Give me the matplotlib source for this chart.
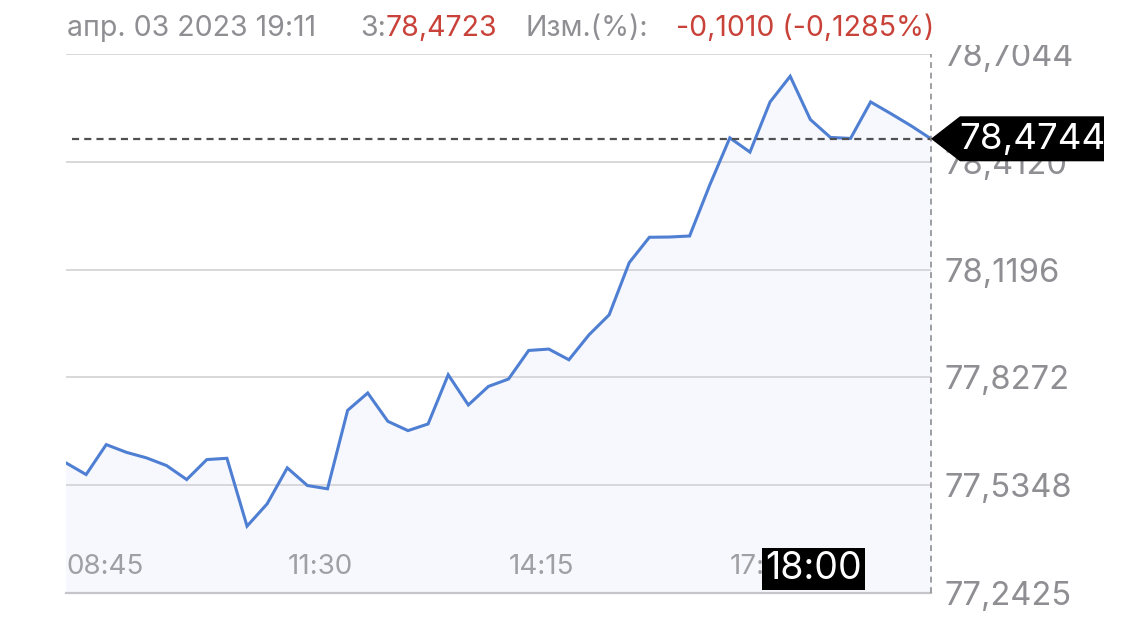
import matplotlib
matplotlib.use("Agg")
import matplotlib.pyplot as plt
import matplotlib.transforms as mtransforms
from matplotlib.patches import Polygon, Rectangle
import numpy as np

plt.rcParams['font.family'] = ['Inter', 'DejaVu Sans']

# 15-minute steps starting at 08:45
prices = [77.5954, 77.5638, 77.6450, 77.6241, 77.6090, 77.5881, 77.5502, 77.6044,
          77.6079, 77.4238, 77.4844, 77.5819, 77.5340, 77.5251, 77.7379, 77.7850,
          77.7081, 77.6829, 77.7010, 77.8345, 77.7525, 77.8028, 77.8229, 77.9003,
          77.9041, 77.8751, 77.9428, 77.9970, 78.1386, 78.2073, 78.2080, 78.2108,
          78.3489, 78.4770, 78.4383, 78.5744, 78.6440, 78.5268, 78.4781, 78.4754,
          78.5744, 78.5428, 78.5100, 78.4744]
y_ticks = [77.2425, 77.5348, 77.8272, 78.1196, 78.4120, 78.7044]
y_labels = ["77,2425", "77,5348", "77,8272", "78,1196", "78,4120", "78,7044"]
x_tick_pos = [0, 11, 22, 33]
x_tick_labels = ["08:45", "11:30", "14:15", "17:00"]
cursor_idx = 37
cursor_label = "18:00"
last_label = "78,4744"
header_date = "апр. 03 2023 19:11"
header_close_lbl = "З:"
header_close = "78,4723"
header_chg_lbl = "Изм.(%):"
header_chg = "-0,1010 (-0,1285%)"

GRAY = "#8e8e93"
RED = "#c9423a"
BLUE = "#4f7fd3"

fig = plt.figure(figsize=(11.25, 6.27), dpi=100)
W, H = 1125, 627
ax = fig.add_axes([66 / W, 1 - 593 / H, 865 / W, 539 / H])

x = np.arange(len(prices))
ax.fill_between(x, prices, y_ticks[0], color="#f6f8fd", zorder=1)
ax.plot(x, prices, color=BLUE, lw=2.2, zorder=3, solid_joinstyle="miter")

ax.set_xlim(0, len(prices) - 1)
ax.set_ylim(y_ticks[0], y_ticks[-1])

for s in ["top", "left", "right"]:
    ax.spines[s].set_visible(False)
ax.spines["bottom"].set_color("#c6c6ca")
ax.spines["bottom"].set_linewidth(1.6)

ax.yaxis.tick_right()
ax.set_yticks(y_ticks)
ax.set_yticklabels(y_labels)
ax.tick_params(axis="y", length=0, pad=10, labelsize=23.5, labelcolor=GRAY)
ax.grid(axis="y", color="#d5d5d9", lw=1.3)

ax.set_xticks(x_tick_pos)
ax.set_xticklabels(x_tick_labels, ha="left")
ax.tick_params(axis="x", length=0, pad=-28, labelsize=20, labelcolor="#a0a0a4")

# last price dashed line and vertical cursor
ax.axhline(prices[-1], xmin=0.007, color="#505050", lw=1.6, dashes=(3.2, 2.3), zorder=4)
ax.axvline(len(prices) - 1, color=GRAY, lw=1.2, dashes=(3.5, 2.8), zorder=4, clip_on=False)

# price tag on the right
tag_tr = fig.dpi_scale_trans + mtransforms.ScaledTranslation(len(prices) - 1, prices[-1], ax.transData)
tag = Polygon([(0, 0), (0.29, 0.225), (1.73, 0.225), (1.73, -0.225), (0.29, -0.225)],
              closed=True, fc="black", ec="none", transform=tag_tr, clip_on=False, zorder=10)
ax.add_patch(tag)
ax.text(1.01, -0.005, last_label, transform=tag_tr, ha="center", va="center",
        color="white", fontsize=26.5, zorder=11, clip_on=False)

# cursor time label
ax.text(cursor_idx + 0.15, 0.045, cursor_label, transform=ax.get_xaxis_transform(),
        ha="center", va="center", color="white", fontsize=27, zorder=11,
        bbox=dict(boxstyle="square,pad=0.08", fc="black", ec="none"))

# header strip covering the top label
fig.patches.append(Rectangle((0, 1 - 45 / H), 1, 45 / H, transform=fig.transFigure,
                             fc="white", ec="none", zorder=5))
hy = 1 - 36 / H
hfs = 20.5
fig.text(67 / W, hy, header_date, color=GRAY, fontsize=hfs, va="baseline", zorder=6)
fig.text(386 / W, hy, header_close_lbl, color=GRAY, fontsize=hfs, va="baseline", ha="right", zorder=6)
fig.text(386 / W, hy, header_close, color=RED, fontsize=hfs, va="baseline", zorder=6)
fig.text(525 / W, hy, header_chg_lbl, color=GRAY, fontsize=hfs, va="baseline", zorder=6)
fig.text(676 / W, hy, header_chg, color=RED, fontsize=hfs, va="baseline", zorder=6)

fig.savefig("out.png", dpi=100, facecolor="white")
